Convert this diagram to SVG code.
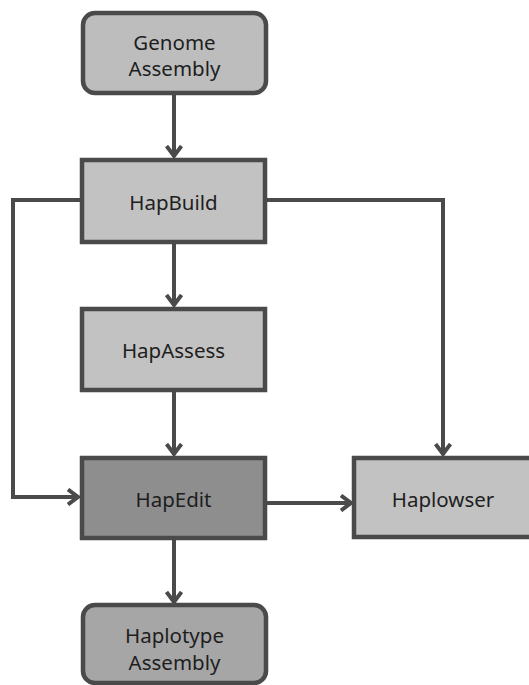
<svg xmlns="http://www.w3.org/2000/svg" width="529" height="685" viewBox="0 0 529 685">
<defs>
<style>
.box{stroke:#4a4a4a;stroke-width:4.5}
.light{fill:#c2c2c2}
.dark{fill:#8e8e8e}
.term1{fill:#bdbdbd}
.term2{fill:#a6a6a6}
.lbl{font-family:"Noto Sans","Liberation Sans",sans-serif;font-size:20.5px;fill:#1e1e1e;text-anchor:middle}
.conn{fill:none;stroke:#4a4a4a;stroke-width:4;stroke-linejoin:miter}
</style>
<marker id="arr" viewBox="0 0 14 18" refX="12.5" refY="9" markerWidth="14" markerHeight="18" markerUnits="userSpaceOnUse" orient="auto">
<path d="M1.5,1.5 L11.5,9 L1.5,16.5" fill="none" stroke="#4a4a4a" stroke-width="4"/>
</marker>
</defs>
<g id="connectors">
<path class="conn" d="M174,94 V157" marker-end="url(#arr)"/>
<path class="conn" d="M174,243 V306" marker-end="url(#arr)"/>
<path class="conn" d="M174,391 V455" marker-end="url(#arr)"/>
<path class="conn" d="M174,539 V603" marker-end="url(#arr)"/>
<path class="conn" d="M82,200 H13 V497 H79" marker-end="url(#arr)"/>
<path class="conn" d="M265,200 H443 V455" marker-end="url(#arr)"/>
<path class="conn" d="M265,503 H352" marker-end="url(#arr)"/>
</g>
<g id="genome-assembly">
<rect class="box term1" x="83" y="13" width="183" height="80" rx="12"/>
<text class="lbl" x="174.5" y="50">Genome</text>
<text class="lbl" x="174.5" y="76">Assembly</text>
</g>
<g id="hapbuild">
<rect class="box light" x="82" y="160" width="183" height="82"/>
<text class="lbl" x="173.5" y="210">HapBuild</text>
</g>
<g id="hapassess">
<rect class="box light" x="82" y="309" width="183" height="81"/>
<text class="lbl" x="173.5" y="358">HapAssess</text>
</g>
<g id="hapedit">
<rect class="box dark" x="82" y="458" width="183" height="80"/>
<text class="lbl" x="173.5" y="507">HapEdit</text>
</g>
<g id="haplowser">
<rect class="box light" x="354" y="458" width="185" height="79"/>
<text class="lbl" x="443" y="507">Haplowser</text>
</g>
<g id="haplotype-assembly">
<rect class="box term2" x="83" y="605" width="183" height="78" rx="12"/>
<text class="lbl" x="174.5" y="643">Haplotype</text>
<text class="lbl" x="174.5" y="670">Assembly</text>
</g>
</svg>
